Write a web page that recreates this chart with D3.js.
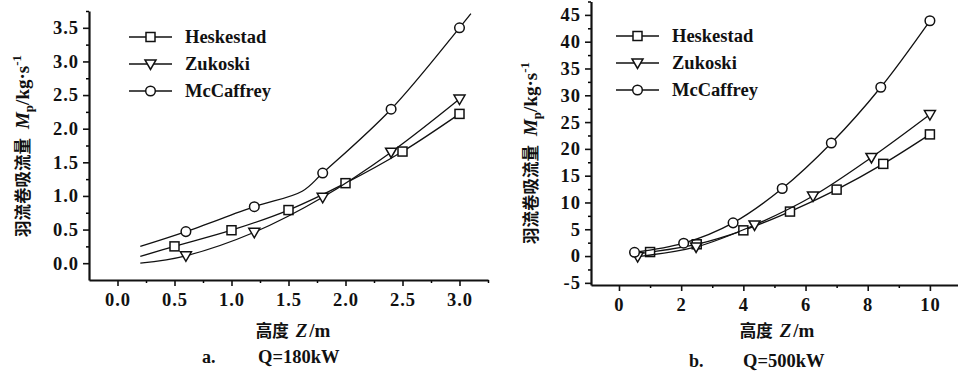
<!DOCTYPE html>
<html>
<head>
<meta charset="utf-8">
<script src="https://cdn.jsdelivr.net/npm/d3@7"></script>
<style>
  body { margin: 0; background: #fff; }
  svg text { font-family: "Liberation Serif", "DejaVu Serif", serif; font-weight: bold; fill: #111; }
  .cjk { font-family: "Noto Sans CJK SC", sans-serif; font-weight: 700; }
</style>
</head>
<body>
<svg width="958" height="380"></svg>
<script>
// legend names
var seriesNames = ["Heskestad", "Zukoski", "McCaffrey"];
var markerTypes = ["square", "triangle", "circle"];

// panel a, Q=180kW  (z in m, Mp in kg/s); mark=0 -> curve point without a symbol
var aHeskZ = [0.2, 0.5, 1.0, 1.5, 2.0, 2.5, 3.0];
var aHeskM = [0.10, 0.25, 0.49, 0.79, 1.19, 1.66, 2.22];
var aHeskMark = [0, 1, 1, 1, 1, 1, 1];
var aZukZ = [0.2, 0.6, 1.2, 1.8, 2.4, 3.0];
var aZukM = [0.0, 0.11, 0.46, 0.98, 1.65, 2.44];
var aZukMark = [0, 1, 1, 1, 1, 1];
var aMcZ = [0.2, 0.6, 1.2, 1.62, 1.8, 2.4, 3.0, 3.1];
var aMcM = [0.25, 0.47, 0.84, 1.07, 1.34, 2.29, 3.50, 3.71];
var aMcMark = [0, 1, 1, 0, 1, 1, 1, 0];

// panel b, Q=500kW
var bHeskZ = [0.5, 1.0, 2.5, 4.0, 5.5, 7.0, 8.5, 10];
var bHeskM = [0.4, 0.75, 2.2, 4.8, 8.3, 12.4, 17.2, 22.7];
var bHeskMark = [0, 1, 1, 1, 1, 1, 1, 1];
var bZukZ = [0.6, 2.48, 4.36, 6.24, 8.12, 10];
var bZukM = [-0.1, 1.7, 5.8, 11.2, 18.4, 26.4];
var bZukMark = [1, 1, 1, 1, 1, 1];
var bMcZ = [0.5, 2.08, 3.67, 5.25, 6.83, 8.42, 10];
var bMcM = [0.7, 2.4, 6.2, 12.6, 21.1, 31.5, 43.9];
var bMcMark = [1, 1, 1, 1, 1, 1, 1];

// ticks
var aXTicks = [0, 0.5, 1.0, 1.5, 2.0, 2.5, 3.0];
var aXMinor = [0.25, 0.75, 1.25, 1.75, 2.25, 2.75, 3.25];
var aYTicks = [0, 0.5, 1.0, 1.5, 2.0, 2.5, 3.0, 3.5];
var aYMinor = [0.25, 0.75, 1.25, 1.75, 2.25, 2.75, 3.25, 3.75];
var bXTicks = [0, 2, 4, 6, 8, 10];
var bXMinor = [1, 3, 5, 7, 9];
var bYTicks = [-5, 0, 5, 10, 15, 20, 25, 30, 35, 40, 45];
var bYMinor = [-2.5, 2.5, 7.5, 12.5, 17.5, 22.5, 27.5, 32.5, 37.5, 42.5, 47.5];

var svg = d3.select("svg");

function pts(zs, ms, marks) {
	return zs.map(function (z, i) { return {z: z, m: ms[i], mark: marks[i]}; });
}

function drawMarker(g, type, x, y) {
	if (type === "square") {
		g.append("rect").attr("x", x - 4.5).attr("y", y - 4.5).attr("width", 9).attr("height", 9)
			.attr("fill", "#fff").attr("stroke", "#111").attr("stroke-width", 1.5);
	} else if (type === "circle") {
		g.append("circle").attr("cx", x).attr("cy", y).attr("r", 4.8)
			.attr("fill", "#fff").attr("stroke", "#111").attr("stroke-width", 1.5);
	} else {
		g.append("path").attr("d", "M" + (x - 5.5) + "," + (y - 4) + "L" + (x + 5.5) + "," + (y - 4) + "L" + x + "," + (y + 5.5) + "Z")
			.attr("fill", "#fff").attr("stroke", "#111").attr("stroke-width", 1.5);
	}
}

function panel(cfg) {
	var x = d3.scaleLinear().domain(cfg.xDomain).range(cfg.xRange);
	var y = d3.scaleLinear().domain(cfg.yDomain).range(cfg.yRange);
	var g = svg.append("g");

	// minor ticks
	g.append("g").attr("transform", "translate(0," + cfg.yRange[0] + ")")
		.call(d3.axisBottom(x).tickValues(cfg.xMinor).tickSize(3).tickSizeOuter(0).tickFormat(""))
		.call(function (s) { s.select(".domain").remove(); s.selectAll("line").attr("stroke-width", 1.5); });
	g.append("g").attr("transform", "translate(" + cfg.xRange[0] + ",0)")
		.call(d3.axisLeft(y).tickValues(cfg.yMinor).tickSize(3).tickSizeOuter(0).tickFormat(""))
		.call(function (s) { s.select(".domain").remove(); s.selectAll("line").attr("stroke-width", 1.5); });

	// major ticks + axis lines
	var xa = g.append("g").attr("transform", "translate(0," + cfg.yRange[0] + ")")
		.call(d3.axisBottom(x).tickValues(cfg.xTicks).tickSize(6).tickSizeOuter(0).tickPadding(7).tickFormat(cfg.fmtX));
	var ya = g.append("g").attr("transform", "translate(" + cfg.xRange[0] + ",0)")
		.call(d3.axisLeft(y).tickValues(cfg.yTicks).tickSize(6).tickSizeOuter(0).tickPadding(4).tickFormat(cfg.fmtY));
	[xa, ya].forEach(function (a) {
		a.select(".domain").attr("stroke-width", 2.2).attr("stroke", "#111");
		a.selectAll(".tick line").attr("stroke-width", 1.6).attr("stroke", "#111");
		a.selectAll(".tick text").attr("font-size", 18.5).attr("letter-spacing", 1)
			.attr("font-family", null).attr("fill", "#111");
		a.attr("font-family", null);
	});

	var line = d3.line().curve(d3.curveCatmullRom.alpha(0.5))
		.x(function (d) { return x(d.z); }).y(function (d) { return y(d.m); });

	cfg.series.forEach(function (s, i) {
		g.append("path").attr("d", line(s)).attr("fill", "none")
			.attr("stroke", "#111").attr("stroke-width", 1.3);
		s.filter(function (d) { return d.mark; }).forEach(function (d) {
			drawMarker(g, markerTypes[i], x(d.z), y(d.m));
		});
	});

	// legend
	seriesNames.forEach(function (name, i) {
		var ly = cfg.legend.y + i * 27;
		g.append("line").attr("x1", cfg.legend.x).attr("x2", cfg.legend.x + 43)
			.attr("y1", ly).attr("y2", ly).attr("stroke", "#111").attr("stroke-width", 1.6);
		drawMarker(g, markerTypes[i], cfg.legend.x + 21.5, ly);
		g.append("text").attr("x", cfg.legend.x + 56).attr("y", ly + 6)
			.attr("font-size", 18.5).text(name);
	});

	// y title
	var yt = g.append("text")
		.attr("transform", "translate(" + cfg.yTitle[0] + "," + cfg.yTitle[1] + ") rotate(-90)")
		.attr("text-anchor", "middle").attr("font-size", 19);
	yt.append("tspan").attr("class", "cjk").attr("font-size", 16.5).text("羽流卷吸流量");
	yt.append("tspan").attr("dx", 9).attr("font-style", "italic").text("M");
	yt.append("tspan").attr("dy", 4).attr("font-size", 13).text("p");
	yt.append("tspan").attr("dy", -4).text("/kg·s");
	yt.append("tspan").attr("dy", -8).attr("font-size", 13).text("-1");

	// x title
	var xt = g.append("text").attr("x", cfg.xTitle[0]).attr("y", cfg.xTitle[1])
		.attr("text-anchor", "middle").attr("font-size", 19);
	xt.append("tspan").attr("class", "cjk").attr("font-size", 16.5).text("高度");
	xt.append("tspan").attr("dx", 7).attr("font-style", "italic").text("Z");
	xt.append("tspan").attr("dx", 2).text("/m");

	// caption
	g.append("text").attr("x", cfg.caption[0]).attr("y", cfg.caption[2]).attr("font-size", 18).text(cfg.captionTag);
	g.append("text").attr("x", cfg.caption[1]).attr("y", cfg.caption[2]).attr("font-size", 18.5).text(cfg.captionText);
}

panel({
	xDomain: [-0.25, 3.25], xRange: [89, 488],
	yDomain: [-0.25, 3.75], yRange: [280, 11],
	xTicks: aXTicks, xMinor: aXMinor, yTicks: aYTicks, yMinor: aYMinor,
	fmtX: function (d) { return d.toFixed(1); }, fmtY: function (d) { return d.toFixed(1); },
	series: [pts(aHeskZ, aHeskM, aHeskMark), pts(aZukZ, aZukM, aZukMark), pts(aMcZ, aMcM, aMcMark)],
	legend: {x: 129, y: 37},
	yTitle: [29, 146], xTitle: [293, 337],
	caption: [202, 258, 363], captionTag: "a.", captionText: "Q=180kW"
});

panel({
	xDomain: [-0.9, 11], xRange: [591, 961],
	yDomain: [-5.4, 47.5], yRange: [285, 1.5],
	xTicks: bXTicks, xMinor: bXMinor, yTicks: bYTicks, yMinor: bYMinor,
	fmtX: function (d) { return String(d); }, fmtY: function (d) { return String(d); },
	series: [pts(bHeskZ, bHeskM, bHeskMark), pts(bZukZ, bZukM, bZukMark), pts(bMcZ, bMcM, bMcMark)],
	legend: {x: 616, y: 36},
	yTitle: [537, 153], xTitle: [777, 337],
	caption: [689, 743, 367], captionTag: "b.", captionText: "Q=500kW"
});
</script>
</body>
</html>
